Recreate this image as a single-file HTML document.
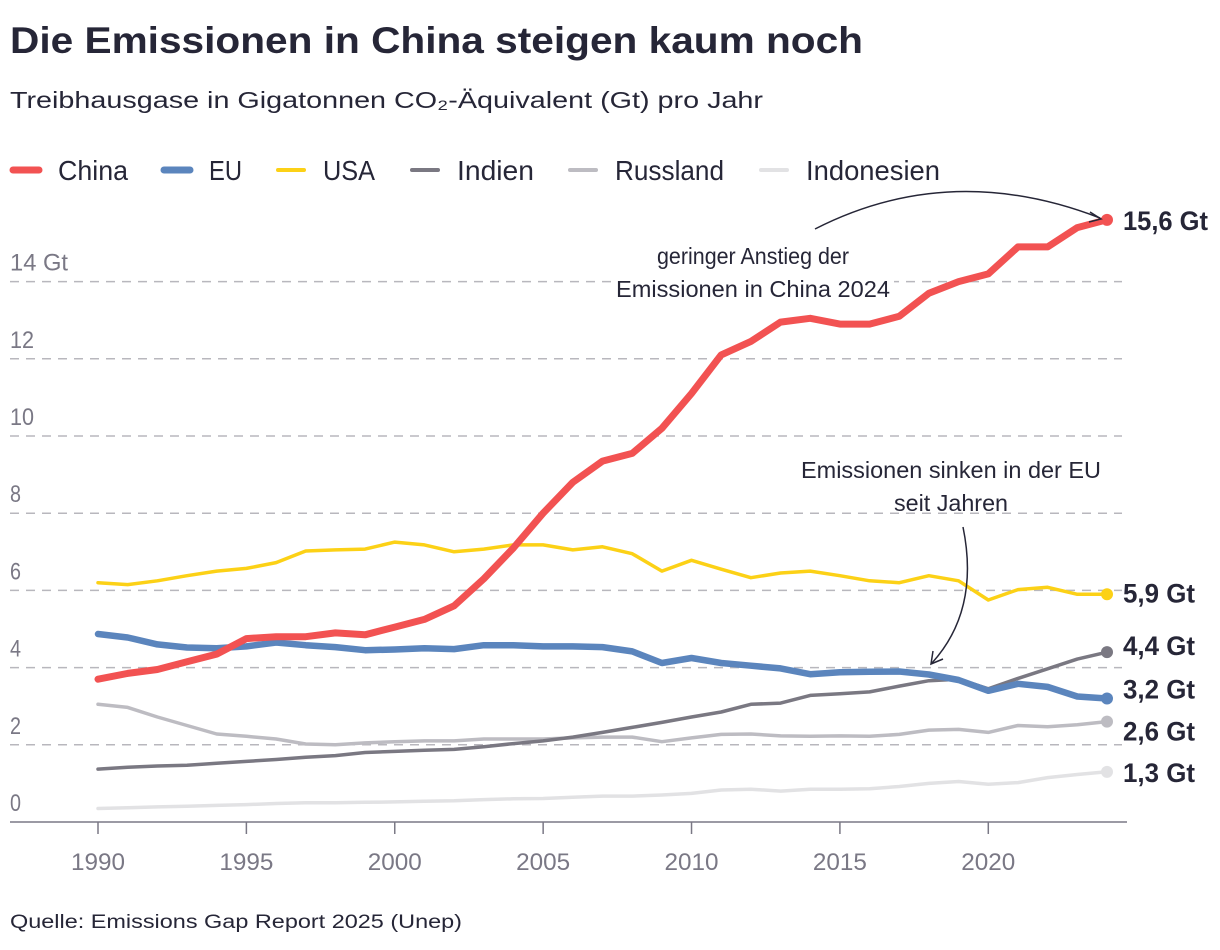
<!DOCTYPE html>
<html><head><meta charset="utf-8">
<style>
html,body{margin:0;padding:0;background:#fff;}
svg{display:block;font-family:"Liberation Sans",sans-serif;}
.tick{fill:#7a7885;font-size:24px;}
.lbl{fill:#262637;font-size:27px;font-weight:bold;}
.ann{fill:#262637;font-size:23px;}
.leg{fill:#262637;font-size:28px;}
</style></head>
<body>
<svg id="chart" width="1220" height="950" viewBox="0 0 1220 950">
<text x="10" y="53" font-size="37" font-weight="bold" fill="#262637" textLength="853" lengthAdjust="spacingAndGlyphs">Die Emissionen in China steigen kaum noch</text>
<text x="10" y="108" font-size="23" fill="#262637" textLength="753" lengthAdjust="spacingAndGlyphs">Treibhausgase in Gigatonnen CO₂-Äquivalent (Gt) pro Jahr</text>
<g id="legend"></g>
<g id="grid"></g>
<g id="xaxis"></g>
<g id="series"></g>
<g id="ann">
<path d="M815 229 Q950 160 1100 218" fill="none" stroke="#262637" stroke-width="1.5"/>
<path d="M1090 212 L1101 219 L1089 222" fill="none" stroke="#262637" stroke-width="1.5"/>
<rect x="612" y="238" width="282" height="66" fill="#fff"/>
<text class="ann" x="753" y="264" text-anchor="middle" textLength="192" lengthAdjust="spacingAndGlyphs">geringer Anstieg der</text>
<text class="ann" x="753" y="297" text-anchor="middle" textLength="274" lengthAdjust="spacingAndGlyphs">Emissionen in China 2024</text>
<text class="ann" x="951" y="478" text-anchor="middle" textLength="300" lengthAdjust="spacingAndGlyphs">Emissionen sinken in der EU</text>
<text class="ann" x="951" y="511" text-anchor="middle" textLength="114" lengthAdjust="spacingAndGlyphs">seit Jahren</text>
<path d="M963 527 Q980 610 932 663" fill="none" stroke="#262637" stroke-width="1.5"/>
<path d="M933 651 L931 664 L943 659" fill="none" stroke="#262637" stroke-width="1.5"/>
</g>
<text x="10" y="928" font-size="19" fill="#262637" textLength="452" lengthAdjust="spacingAndGlyphs">Quelle: Emissions Gap Report 2025 (Unep)</text>
</svg>
<script>
const years = [];
for (let y = 1990; y <= 2024; y++) years.push(y);
const seriesNames = ["Indonesien","Russland","Indien","USA","EU","China"];
const china = [3.7,3.85,3.95,4.15,4.35,4.75,4.8,4.8,4.9,4.85,5.05,5.25,5.6,6.3,7.1,8.0,8.8,9.35,9.55,10.2,11.1,12.1,12.45,12.95,13.05,12.9,12.9,13.1,13.7,14.0,14.2,14.9,14.9,15.4,15.6];
const eu = [4.87,4.78,4.6,4.52,4.5,4.55,4.65,4.58,4.53,4.45,4.47,4.5,4.48,4.58,4.58,4.55,4.55,4.53,4.42,4.12,4.25,4.12,4.05,3.98,3.83,3.88,3.89,3.9,3.82,3.68,3.4,3.58,3.5,3.25,3.2];
const usa = [6.2,6.15,6.25,6.38,6.5,6.57,6.72,7.02,7.05,7.07,7.25,7.18,7.0,7.07,7.18,7.18,7.05,7.13,6.95,6.5,6.78,6.55,6.33,6.45,6.5,6.38,6.25,6.2,6.38,6.25,5.75,6.02,6.08,5.9,5.9];
const indien = [1.37,1.42,1.45,1.47,1.52,1.57,1.62,1.68,1.72,1.8,1.83,1.86,1.88,1.95,2.03,2.1,2.2,2.32,2.45,2.58,2.72,2.85,3.05,3.08,3.28,3.32,3.37,3.52,3.66,3.7,3.45,3.72,3.97,4.22,4.4];
const russland = [3.05,2.97,2.72,2.5,2.28,2.22,2.15,2.02,2.0,2.05,2.08,2.1,2.1,2.15,2.15,2.15,2.18,2.2,2.2,2.08,2.18,2.27,2.28,2.23,2.22,2.23,2.22,2.27,2.38,2.4,2.32,2.5,2.47,2.52,2.6];
const indonesien = [0.35,0.37,0.39,0.41,0.43,0.45,0.48,0.5,0.5,0.51,0.52,0.54,0.55,0.58,0.6,0.61,0.64,0.67,0.67,0.7,0.74,0.83,0.85,0.8,0.85,0.85,0.86,0.92,1.0,1.05,0.98,1.02,1.15,1.23,1.3];
const endLabels = ["1,3 Gt","2,6 Gt","4,4 Gt","5,9 Gt","3,2 Gt","15,6 Gt"];
const yTicks = [0,2,4,6,8,10,12,14];
const yTickLabels = ["0","2","4","6","8","10","12","14 Gt"];
const xTicks = [1990,1995,2000,2005,2010,2015,2020];

const NS = "http://www.w3.org/2000/svg";
const xS = y => 98 + (y - 1990) * (1107 - 98) / 34;
const yS = v => 822 - v * 38.6;
function mk(tag, attrs, parent) {
  const e = document.createElementNS(NS, tag);
  for (const k in attrs) e.setAttribute(k, attrs[k]);
  parent.appendChild(e);
  return e;
}
const grid = document.getElementById("grid");
yTicks.forEach((t, i) => {
  if (t > 0) {
    const l = mk("line", {x1:10, x2:1122, y1:yS(t), y2:yS(t), stroke:"#b8b7bd", "stroke-width":1.5, "stroke-dasharray":"9 7"}, grid);
    
    
  }
  const attrs = {x:10, y:yS(t) - 11, class:"tick"};
  const tl = String(yTickLabels[i]).length;
  attrs.textLength = tl === 1 ? 11 : (tl === 2 ? 24 : 58);
  attrs.lengthAdjust = "spacingAndGlyphs";
  const tx = mk("text", attrs, grid);
  tx.textContent = yTickLabels[i];
  
  
});
const xa = document.getElementById("xaxis");
const al = mk("line", {x1:10, x2:1127, y1:822, y2:822, stroke:"#7a7885", "stroke-width":1.5}, xa);


xTicks.forEach(t => {
  const tl = mk("line", {x1:xS(t), x2:xS(t), y1:822, y2:834, stroke:"#7a7885", "stroke-width":1.5}, xa);
  
  
  const tx = mk("text", {x:xS(t), y:870, class:"tick", "text-anchor":"middle", textLength:54, lengthAdjust:"spacingAndGlyphs"}, xa);
  tx.textContent = t;
  
  
});
const data = [indonesien, russland, indien, usa, eu, china];
const colors = ["#e2e2e4","#bdbcc2","#7a7882","#fcd116","#5b85bd","#f25252"];
const widths = [3.5,3.5,3.5,3.5,6.5,7];
const labelShift = [0,9,-7,-2,-10,0];
const sg = document.getElementById("series");
data.forEach((vals, si) => {
  const d = vals.map((v, i) => (i ? "L" : "M") + xS(years[i]).toFixed(1) + " " + yS(v).toFixed(1)).join(" ");
  const p = mk("path", {d:d, fill:"none", stroke:colors[si], "stroke-width":widths[si], "stroke-linejoin":"round", "stroke-linecap":"round"}, sg);
  
  
  const last = vals[vals.length - 1];
  const c = mk("circle", {cx:xS(2024), cy:yS(last), r:6, fill:colors[si]}, sg);
  
  
  const t = mk("text", {x:1123, y:yS(last) + 10 + labelShift[si], class:"lbl", textLength:endLabels[si].length > 6 ? 85 : 72, lengthAdjust:"spacingAndGlyphs"}, sg);
  t.textContent = endLabels[si];
  
  
});
const legendNames = ["China","EU","USA","Indien","Russland","Indonesien"];
const legendColors = ["#f25252","#5b85bd","#fcd116","#7a7882","#bdbcc2","#e2e2e4"];
const legendW = [7,7,4,4,4,4];
const legendX = [10,161,275,409,567,758];
const legendTL = [70,33,52,77,109,134];
const lg = document.getElementById("legend");
legendNames.forEach((n, i) => {
  const l = mk("line", {x1:legendX[i] + 3, x2:legendX[i] + 29, y1:170, y2:170, stroke:legendColors[i], "stroke-width":legendW[i], "stroke-linecap":"round"}, lg);
  
  
  const t = mk("text", {x:legendX[i] + 48, y:180, class:"leg", textLength:legendTL[i], lengthAdjust:"spacingAndGlyphs"}, lg);
  t.textContent = n;
  
  
});
</script>
</body></html>
